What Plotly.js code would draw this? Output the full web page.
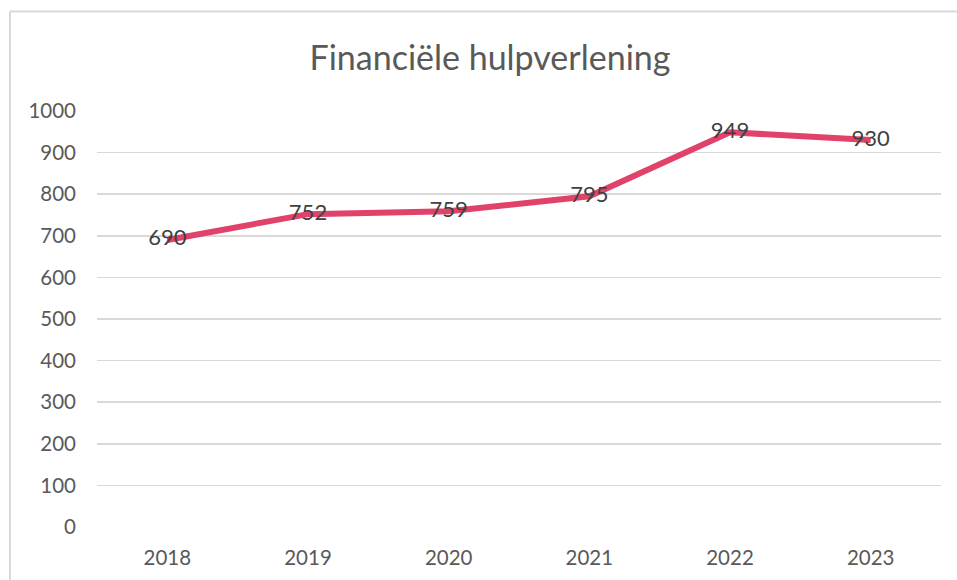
<!DOCTYPE html>
<html>
<head>
<meta charset="utf-8">
<script src="https://cdn.plot.ly/plotly-3.0.1.min.js"></script>
<style>html,body{margin:0;padding:0;background:#fff;}#chart{width:957px;height:580px;}</style>
</head>
<body>
<div id="chart"></div>
<script>
const years = ['2018', '2019', '2020', '2021', '2022', '2023'];
const values = [690, 752, 759, 795, 949, 930];
const labels = values.map(String);
const yTicks = [0, 100, 200, 300, 400, 500, 600, 700, 800, 900, 1000];

const FONT = 'Lato, "Open Sans", sans-serif';

const trace = {
  x: years,
  y: values,
  type: 'scatter',
  mode: 'lines+text',
  text: labels,
  textposition: 'middle center',
  textfont: {family: FONT, size: 22, color: '#404040'},
  line: {color: '#E0426A', width: 6},
  hoverinfo: 'x+y'
};

const layout = {
  width: 957,
  height: 580,
  margin: {l: 97, r: 16, t: 111, b: 53},
  paper_bgcolor: '#ffffff',
  plot_bgcolor: '#ffffff',
  showlegend: false,
  font: {family: FONT, color: '#595959'},
  title: {
    text: 'Financiële hulpverlening',
    font: {family: FONT, size: 34, color: '#595959'},
    xref: 'container', x: 0.512, xanchor: 'center',
    yref: 'container', y: 1 - 58/580, yanchor: 'middle'
  },
  xaxis: {
    type: 'category',
    range: [-0.5, 5.5],
    tickvals: years,
    ticktext: years,
    showgrid: false,
    showline: false,
    zeroline: false,
    ticks: '',
    ticklabelstandoff: 16,
    tickfont: {family: FONT, size: 20.5, color: '#595959'},
    fixedrange: true
  },
  yaxis: {
    range: [0, 1000],
    tickvals: yTicks,
    ticktext: yTicks.map(String),
    showgrid: true,
    gridcolor: '#d9d9d9',
    gridwidth: 1.5,
    zeroline: false,
    showline: false,
    ticks: '',
    ticklabelstandoff: 20,
    tickfont: {family: FONT, size: 20.5, color: '#595959'},
    fixedrange: true
  },
  shapes: [
    {type: 'line', xref: 'paper', yref: 'paper', x0: -0.1031, x1: -0.1031, y0: 1.2392, y1: -0.2, line: {color: '#d9d9d9', width: 2}},
    {type: 'line', xref: 'paper', yref: 'paper', x0: -0.1031, x1: 1.05, y0: 1.2392, y1: 1.2392, line: {color: '#d9d9d9', width: 2}}
  ]
};

Plotly.newPlot('chart', [trace], layout, {displayModeBar: false, staticPlot: true});
</script>
</body>
</html>
